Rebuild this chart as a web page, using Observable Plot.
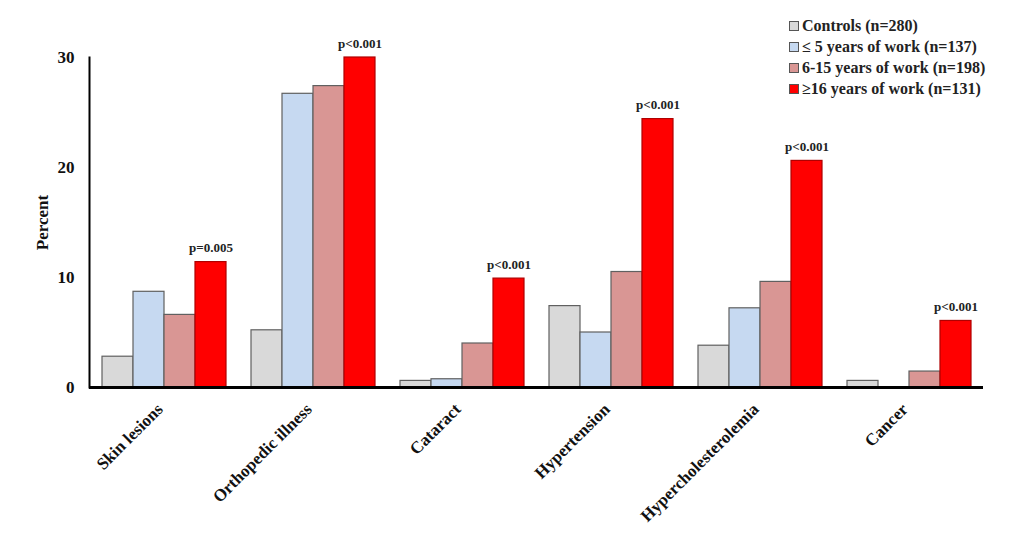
<!DOCTYPE html>
<html>
<head>
<meta charset="utf-8">
<script src="https://cdn.jsdelivr.net/npm/d3@7"></script>
<script src="https://cdn.jsdelivr.net/npm/@observablehq/plot@0.6"></script>
<style>
  html, body { margin: 0; padding: 0; background: #fff; }
  #wrap { position: relative; width: 1024px; height: 549px; }
  #legend { position: absolute; left: 789px; top: 15px; font-family: "Liberation Serif", serif; font-weight: bold; font-size: 16px; color: #222; }
  #legend .row { display: flex; align-items: center; height: 21px; white-space: nowrap; }
  #legend .sw { width: 8px; height: 8px; border: 1px solid #555; margin-right: 3px; }
</style>
</head>
<body>
<div id="wrap"><div id="legend"></div></div>
<script>
const categories = ["Skin lesions", "Orthopedic illness", "Cataract", "Hypertension", "Hypercholesterolemia", "Cancer"];
const seriesNames = ["Controls (n=280)", "≤ 5 years of work (n=137)", "6-15 years of work (n=198)", "≥16 years of work (n=131)"];
const controls  = [2.8, 5.2, 0.6, 7.4, 3.8, 0.6];
const work0to5  = [8.7, 26.7, 0.75, 5.0, 7.2, 0];
const work6to15 = [6.6, 27.4, 4.0, 10.5, 9.6, 1.45];
const work16    = [11.4, 30.0, 9.9, 24.4, 20.6, 6.05];
const pLabels   = ["p=0.005", "p<0.001", "p<0.001", "p<0.001", "p<0.001", "p<0.001"];
const yTicks    = [0, 10, 20, 30];
const fills     = ["#d9d9d9", "#c6d9f1", "#d99694", "#ff0000"];
const strokes   = ["#606060", "#606060", "#606060", "#b00000"];

const seriesValues = [controls, work0to5, work6to15, work16];
const rows = [];
categories.forEach((c, i) => seriesValues.forEach((vals, s) => rows.push({category: c, series: seriesNames[s], value: vals[i]})));
const pRows = categories.map((c, i) => ({category: c, series: seriesNames[3], value: work16[i], label: pLabels[i]}));
const fillOf = Object.fromEntries(seriesNames.map((s, i) => [s, fills[i]]));
const strokeOf = Object.fromEntries(seriesNames.map((s, i) => [s, strokes[i]]));

const chart = Plot.plot({
  width: 1024,
  height: 549,
  marginLeft: 87,
  marginRight: 39,
  marginTop: 57,
  marginBottom: 162,
  style: {fontFamily: "Liberation Serif", fontWeight: "bold", fontSize: "16px", color: "#111", background: "#fff"},
  fx: {domain: categories, padding: 0},
  x: {domain: seriesNames, paddingInner: 0, paddingOuter: 0.38, axis: null},
  y: {domain: [0, 30]},
  marks: [
    Plot.barY(rows, {
      fx: "category", x: "series", y: "value",
      fill: {value: d => fillOf[d.series], scale: null},
      stroke: {value: d => strokeOf[d.series], scale: null},
      strokeWidth: 1.2
    }),
    Plot.text(pRows, {fx: "category", x: "series", y: "value", text: "label", dy: -14, fontSize: 13, fill: "#222"}),
    Plot.ruleY([0], {strokeWidth: 3, stroke: "#000"}),
    Plot.frame({anchor: "left", facetAnchor: "left", strokeWidth: 2, stroke: "#000"}),
    Plot.axisY({ticks: yTicks, tickSize: 0, tickPadding: 15, fontSize: 17, label: "Percent", labelArrow: "none", labelAnchor: "center", labelOffset: 54}),
    Plot.axisFx({anchor: "bottom", tickRotate: -45, tickSize: 0, tickPadding: 19, fontSize: 17, label: null, dx: -4})
  ]
});
document.getElementById("wrap").prepend(chart);

const legend = document.getElementById("legend");
seriesNames.forEach((s, i) => {
  const row = document.createElement("div");
  row.className = "row";
  const sw = document.createElement("span");
  sw.className = "sw";
  sw.style.background = fills[i];
  const t = document.createElement("span");
  t.textContent = s;
  row.append(sw, t);
  legend.append(row);
});
</script>
</body>
</html>
